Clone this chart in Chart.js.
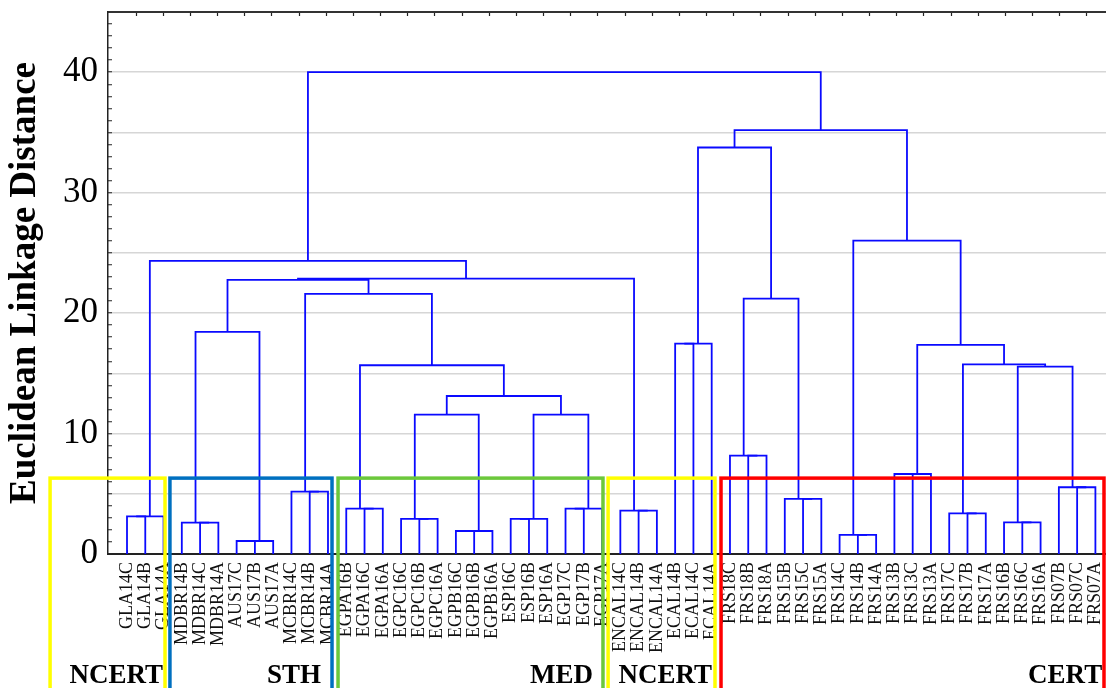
<!DOCTYPE html>
<html><head><meta charset="utf-8">
<script src="https://cdn.jsdelivr.net/npm/chart.js@4.4.1/dist/chart.umd.min.js"></script>
<style>html,body{margin:0;padding:0;background:#fff}canvas{display:block}</style>
</head><body>
<canvas id="c" width="1106" height="688"></canvas>
<script>
// ---- DATA ----
const leafLabels = [
  'GLA14C','GLA14B','GLA14A',
  'MDBR14B','MDBR14C','MDBR14A','AUS17C','AUS17B','AUS17A','MCBR14C','MCBR14B','MCBR14A',
  'EGPA16B','EGPA16C','EGPA16A','EGPC16C','EGPC16B','EGPC16A','EGPB16C','EGPB16B','EGPB16A',
  'ESP16C','ESP16B','ESP16A','EGP17C','EGP17B','EGP17A',
  'ENCAL14C','ENCAL14B','ENCAL14A','ECAL14B','ECAL14C','ECAL14A',
  'FRS18C','FRS18B','FRS18A','FRS15B','FRS15C','FRS15A','FRS14C','FRS14B','FRS14A',
  'FRS13B','FRS13C','FRS13A','FRS17C','FRS17B','FRS17A','FRS16B','FRS16C','FRS16A',
  'FRS07B','FRS07C','FRS07A'
];
// Linkage rows: leaves are 0..53, the cluster made by row r gets id 54 + r
const linkA = [0,54, 4,3, 6,58, 10,9, 13,12, 16,15, 18,66, 21,68, 24,70, 28,27, 30,74,
               34,33, 37,36, 40,39, 42,82, 46,45, 49,48, 52,51,
               57,65,69,91,63,61,90,96,55, 77,75,87,85,83,81,100, 98];
const linkB = [1,2, 5,56, 7,8, 11,60, 14,62, 17,64, 19,20, 22,23, 25,26, 29,72, 31,32,
               35,76, 38,78, 41,80, 43,44, 47,84, 50,86, 53,88,
               59,67,71,92,93,94,95,73,97, 79,99,89,101,102,103,104, 105];
const linkHeight = [3.13,3.13, 2.60,2.60, 1.08,1.08, 5.18,5.18, 3.77,3.77, 2.91,2.91,
                    1.91,1.91, 2.91,2.91, 3.77,3.77, 3.60,3.60, 17.47,17.47,
                    8.17,8.17, 4.57,4.57, 1.58,1.58, 6.64,6.64, 3.38,3.38, 2.63,2.63, 5.54,5.54,
                    18.44,11.57,11.57,13.12,15.67,21.6,22.76,22.87,24.34,
                    21.21,33.75,15.56,15.75,17.36,26.02,35.19, 40.0];
const yTickLabels = [0, 10, 20, 30, 40];
const groupNames = ['NCERT', 'STH', 'MED', 'NCERT', 'CERT'];

// ---- STYLE / LAYOUT CONFIG ----
const SERIF = '"Liberation Serif", "Times New Roman", serif';
const groupBoxes = [
  {from: -4.21, to: 2.08,  labelRight: 1.97,  color: '#ffff00'},
  {from: 2.35,  to: 11.22, labelRight: 10.62, color: '#0070c0'},
  {from: 11.55, to: 26.05, labelRight: 25.5,  color: '#6cc83c'},
  {from: 26.33, to: 32.18, labelRight: 32.02, color: '#ffff00'},
  {from: 32.51, to: 53.47, labelRight: 53.37, color: '#ff0000'}
];
const boxTopValue = 6.3;

// ---- BUILD DENDROGRAM SEGMENTS ----
const nodeX = leafLabels.map((_, i) => i);
const nodeH = leafLabels.map(() => 0);
const datasets = [];
linkA.forEach((a, r) => {
  const b = linkB[r], h = linkHeight[r];
  const xa = nodeX[a], xb = nodeX[b];
  datasets.push({
    data: [{x: xa, y: nodeH[a]}, {x: xa, y: h}, {x: xb, y: h}, {x: xb, y: nodeH[b]}],
    borderColor: '#0a0aff', borderWidth: 1.8, pointRadius: 0, tension: 0,
    fill: false, xAxisID: 'x', yAxisID: 'y'
  });
  nodeX.push((xa + xb) / 2);
  nodeH.push(h);
});

const groupPlugin = {
  id: 'groups',
  afterDraw(chart) {
    const {ctx, scales: {x, y}, chartArea} = chart;
    ctx.save();
    const top = y.getPixelForValue(boxTopValue);
    const bottom = chart.height + 10;
    groupBoxes.forEach((g, i) => {
      const l = x.getPixelForValue(g.from), r = x.getPixelForValue(g.to);
      ctx.strokeStyle = g.color;
      ctx.lineWidth = 3.5;
      ctx.strokeRect(l, top, r - l, bottom - top);
      ctx.fillStyle = '#000';
      ctx.font = 'bold 27px ' + SERIF;
      ctx.textAlign = 'right';
      ctx.textBaseline = 'alphabetic';
      ctx.fillText(groupNames[i], x.getPixelForValue(g.labelRight), chartArea.bottom + 129);
    });
    ctx.restore();
  }
};

new Chart(document.getElementById('c'), {
  type: 'line',
  data: {datasets},
  options: {
    responsive: false,
    animation: false,
    parsing: false,
    layout: {padding: 0},
    plugins: {legend: {display: false}, tooltip: {enabled: false}},
    scales: {
      x: {
        type: 'linear', position: 'bottom', min: -1.04, max: 53.58,
        afterBuildTicks: s => { s.ticks = leafLabels.map((_, i) => ({value: i})); },
        afterFit: s => { s.height = 134; s.paddingLeft = 0; s.paddingRight = 0; },
        ticks: {
          autoSkip: false, minRotation: 90, maxRotation: 90, padding: 12,
          color: '#111', font: {family: SERIF, size: 18},
          callback: v => leafLabels[v]
        },
        grid: {drawOnChartArea: false, tickLength: -4, tickColor: '#222', tickWidth: 1},
        border: {display: true, color: '#222', width: 2}
      },
      xTop: {
        type: 'linear', position: 'top', min: -1.04, max: 53.58,
        afterBuildTicks: s => { const t = []; for (let k = 0; k < 36; k++) t.push({value: 0.5 + k * 1.4866}); s.ticks = t; },
        afterFit: s => { s.height = 12; s.paddingLeft = 0; s.paddingRight = 0; },
        ticks: {display: false, autoSkip: false},
        grid: {drawOnChartArea: false, tickLength: -4, tickColor: '#222', tickWidth: 1.2},
        border: {display: true, color: '#333', width: 2}
      },
      y: {
        type: 'linear', position: 'left', min: 0, max: 45,
        afterBuildTicks: s => { const t = []; for (let v = 0; v <= 45; v++) t.push({value: v}); s.ticks = t; },
        afterFit: s => { s.width = 108; s.paddingTop = 0; s.paddingBottom = 0; },
        ticks: {
          autoSkip: false, padding: 14, color: '#000',
          font: {family: SERIF, size: 35},
          callback: v => yTickLabels.includes(v) ? String(v) : ''
        },
        grid: {
          drawOnChartArea: true, tickLength: -4, tickColor: '#222', tickWidth: 1,
          color: c => (c.tick && c.tick.value % 5 === 0) ? '#d6d6d6' : 'rgba(0,0,0,0)',
          lineWidth: 1.5
        },
        border: {display: true, color: '#222', width: 1.5},
        title: {
          display: true, text: 'Euclidean Linkage Distance', color: '#000',
          font: {family: SERIF, size: 37, weight: 'bold'}, padding: {top: 3, bottom: 0}
        }
      }
    }
  },
  plugins: [groupPlugin]
});
</script>
</body></html>
